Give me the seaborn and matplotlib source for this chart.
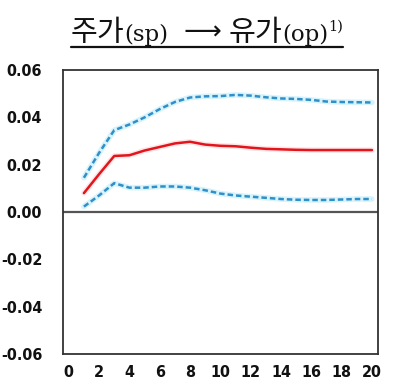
import matplotlib
matplotlib.use("Agg")
import matplotlib.pyplot as plt
import seaborn as sns
import pandas as pd
from matplotlib.lines import Line2D

# Impulse response of oil price to a stock price shock, with confidence band
periods = list(range(1, 21))
response = [0.0080, 0.0160, 0.0237, 0.0240, 0.0260, 0.0275, 0.0290, 0.0297, 0.0285, 0.0280,
            0.0278, 0.0272, 0.0267, 0.0265, 0.0263, 0.0262, 0.0262, 0.0262, 0.0262, 0.0262]
upper = [0.0145, 0.0250, 0.0346, 0.0370, 0.0400, 0.0435, 0.0465, 0.0484, 0.0489, 0.0490,
         0.0495, 0.0492, 0.0485, 0.0480, 0.0478, 0.0474, 0.0467, 0.0465, 0.0464, 0.0463]
lower = [0.0023, 0.0070, 0.0122, 0.0103, 0.0103, 0.0108, 0.0108, 0.0103, 0.0092, 0.0078,
         0.0070, 0.0065, 0.0060, 0.0055, 0.0052, 0.0051, 0.0051, 0.0053, 0.0055, 0.0055]
xticks = [0, 2, 4, 6, 8, 10, 12, 14, 16, 18, 20]
yticks = [-0.06, -0.04, -0.02, 0.00, 0.02, 0.04, 0.06]

df = pd.DataFrame({"period": periods, "response": response, "upper": upper, "lower": lower})

sns.set_theme(style="white")

fig = plt.figure(figsize=(3.95, 3.85), dpi=100)
ax = fig.add_axes([0.1595, 0.0805, 0.7975, 0.7375])

band_color = "#2F8FC8"
for col in ["upper", "lower"]:
    sns.lineplot(data=df, x="period", y=col, ax=ax, color="#BDEBFA", lw=4.0, alpha=0.6)
    sns.lineplot(data=df, x="period", y=col, ax=ax, color=band_color, lw=1.8,
                 linestyle=(0, (2.2, 1.2)))
sns.lineplot(data=df, x="period", y="response", ax=ax, color="#FCD6D6", lw=4.0, alpha=0.6)
sns.lineplot(data=df, x="period", y="response", ax=ax, color="#E3141C", lw=1.8)

ax.axhline(0, color="#555555", lw=1.6, zorder=1)
ax.set_xlim(-0.38, 20.4)
ax.set_ylim(-0.06, 0.06)
ax.set_xticks(xticks)
ax.set_yticks(yticks)
ax.set_xticklabels([str(t) for t in xticks])
ax.set_yticklabels([f"{t:.2f}" for t in yticks])
ax.set_xlabel("")
ax.set_ylabel("")
ax.tick_params(axis="both", length=0)
for lab in ax.get_xticklabels() + ax.get_yticklabels():
    lab.set_family("DejaVu Sans")
    lab.set_fontstretch("condensed")
    lab.set_fontweight("bold")
    lab.set_fontsize(11.5)
    lab.set_color("#111111")
ax.tick_params(axis="x", pad=8)
ax.tick_params(axis="y", pad=15)
for sp in ax.spines.values():
    sp.set_visible(True)
    sp.set_color("#333333")
    sp.set_linewidth(1.3)
ax.grid(False)

# Title assembled from pieces with mixed fonts, then underlined
kr = ["Noto Sans CJK KR", "DejaVu Sans"]
serif = ["DejaVu Serif"]
pieces = [
    ("주가", kr, 21, 0),
    ("(sp)", serif, 16.5, 0),
    ("  ", serif, 17, 0),
    ("⟶", ["DejaVu Sans"], 19, 1),
    (" ", serif, 17, 0),
    ("유가", kr, 21, 0),
    ("(op)", serif, 16.5, 0),
    ("1)", serif, 10.5, 10),
]
renderer = fig.canvas.get_renderer()
base_y = 385 - 41  # baseline in pixels from bottom
texts = []
x = 0.0
for s, fam, size, rise in pieces:
    t = fig.text(0, 0, s, family=fam, fontsize=size, color="#111111",
                 ha="left", va="baseline", transform=None)
    w = t.get_window_extent(renderer).width
    texts.append((t, x, rise))
    x += w
total = x
start = 207 - total / 2
for t, off, rise in texts:
    t.set_position((start + off, base_y + rise))
fig.add_artist(Line2D([start, start + total], [385 - 47, 385 - 47],
                      transform=None, color="#111111", lw=1.6))

fig.savefig("out.png", dpi=100)
